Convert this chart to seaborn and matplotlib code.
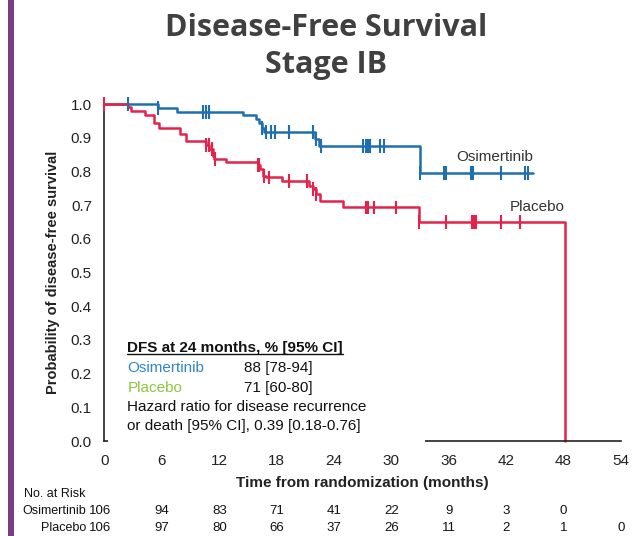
import numpy as np
import pandas as pd
import matplotlib
matplotlib.use("Agg")
import matplotlib.pyplot as plt
import seaborn as sns
from matplotlib.patches import Rectangle
from matplotlib.lines import Line2D

# Kaplan-Meier step points (month, survival probability)
osi_time = [0, 5.6, 7.6, 14.45, 15.85, 16.2, 16.5, 16.7, 22.0, 22.4, 33.0, 44.8]
osi_surv = [1.0, 0.987, 0.977, 0.967, 0.957, 0.945, 0.93, 0.916, 0.896, 0.876, 0.795, 0.795]
osi_censor = [2.5, 5.6, 10.3, 10.6, 10.95, 16.5, 16.9, 17.4, 17.8, 19.3, 21.8, 22.1,
              22.6, 27.0, 27.3, 27.6, 27.8, 28.8, 29.2, 33.0, 35.5, 35.7, 38.3, 38.5,
              41.45, 44.0, 44.3]

pbo_time = [0, 2.5, 2.8, 4.2, 5.2, 5.65, 7.9, 8.5, 10.6, 10.95, 11.3, 11.5, 12.7,
            16.0, 16.3, 16.6, 16.9, 18.6, 21.4, 21.8, 22.1, 22.5, 24.9, 32.9, 48.1]
pbo_surv = [1.0, 0.99, 0.98, 0.967, 0.945, 0.93, 0.911, 0.889, 0.878, 0.866, 0.846,
            0.836, 0.828, 0.818, 0.807, 0.787, 0.782, 0.772, 0.757, 0.747, 0.732,
            0.712, 0.693, 0.65, 0.0]
pbo_censor = [0.0, 10.6, 10.9, 11.2, 11.6, 16.0, 16.2, 16.7, 17.2, 19.3, 21.2, 21.8,
              22.1, 27.3, 27.5, 28.2, 30.5, 32.9, 35.7, 38.4, 38.6, 38.8, 41.45, 43.4]

arms = ["Osimertinib", "Placebo"]
risk_months = [0, 6, 12, 18, 24, 30, 36, 42, 48, 54]
risk_osi = [106, 94, 83, 71, 41, 22, 9, 3, 0]
risk_pbo = [106, 97, 80, 66, 37, 26, 11, 2, 1, 0]

x_ticks = [0, 6, 12, 18, 24, 30, 36, 42, 48, 54]
y_ticks = [0.0, 0.1, 0.2, 0.3, 0.4, 0.5, 0.6, 0.7, 0.8, 0.9, 1.0]

dfs24_osi = "88 [78-94]"
dfs24_pbo = "71 [60-80]"

BLUE = "#1f6fae"
RED = "#e4234b"
palette = {"Osimertinib": BLUE, "Placebo": RED}

sns.set_theme(style="white")
plt.rcParams["font.family"] = ["Liberation Sans", "DejaVu Sans"]

fig = plt.figure(figsize=(6.34, 5.36), dpi=100)
ax = fig.add_axes([0.1648, 0.1772, 0.8147, 0.6287])


def step_value(times, surv, t):
    idx = np.searchsorted(times, t, side="right") - 1
    return surv[max(idx, 0)]


curves = pd.concat([
    pd.DataFrame({"month": osi_time, "surv": osi_surv, "arm": "Osimertinib"}),
    pd.DataFrame({"month": pbo_time, "surv": pbo_surv, "arm": "Placebo"}),
], ignore_index=True)

sns.lineplot(data=curves, x="month", y="surv", hue="arm", palette=palette,
             drawstyle="steps-post", estimator=None, sort=False, lw=1.8,
             legend=False, ax=ax, clip_on=False)

cens = pd.concat([
    pd.DataFrame({"month": osi_censor,
                  "surv": [step_value(osi_time, osi_surv, t) for t in osi_censor],
                  "arm": "Osimertinib"}),
    pd.DataFrame({"month": pbo_censor,
                  "surv": [step_value(pbo_time, pbo_surv, t) for t in pbo_censor],
                  "arm": "Placebo"}),
], ignore_index=True)
sns.scatterplot(data=cens, x="month", y="surv", hue="arm", palette=palette,
                marker="|", s=100, linewidth=1.5, legend=False, ax=ax, clip_on=False,
                zorder=3)

ax.set_xlim(0, 54)
ax.set_ylim(0, 1.0)
ax.set_xticks(x_ticks)
ax.set_yticks(y_ticks)
ax.set_yticklabels([f"{v:.1f}" for v in y_ticks])
for s in ["top", "right"]:
    ax.spines[s].set_visible(False)
for s in ["left", "bottom"]:
    ax.spines[s].set_color("#222222")
    ax.spines[s].set_linewidth(1.2)
ax.tick_params(axis="x", direction="out", length=6, width=1.2, color="#222222",
               labelsize=11, labelcolor="#222222", pad=3)
ax.tick_params(axis="y", direction="out", length=5, width=1.2, color="#222222",
               labelsize=11, labelcolor="#222222", pad=4)
ax.set_xlabel("Time from randomization (months)", fontsize=11, fontweight="bold",
              color="#222222", labelpad=6)
ax.set_ylabel("Probability of disease-free survival", fontsize=10.5,
              fontweight="bold", color="#222222", labelpad=8)
ax.set_facecolor("white")

# arm labels next to curves
ax.text(44.8, 0.842, "Osimertinib", ha="right", va="center", fontsize=11, color="#333333")
ax.text(48.1, 0.693, "Placebo", ha="right", va="center", fontsize=11, color="#333333")

# DFS summary box
fs = 11
hdr = ax.text(2.4, 0.277, "DFS at 24 months, % [95% CI]", ha="left", va="center",
              fontsize=fs, fontweight="bold", color="#111111")
ax.text(2.4, 0.217, arms[0], ha="left", va="center", fontsize=fs, color="#2e86c8")
ax.text(14.6, 0.217, dfs24_osi, ha="left", va="center", fontsize=fs, color="#111111")
ax.text(2.4, 0.158, arms[1], ha="left", va="center", fontsize=fs, color="#8cc63e")
ax.text(14.6, 0.158, dfs24_pbo, ha="left", va="center", fontsize=fs, color="#111111")
ax.text(2.4, 0.101, "Hazard ratio for disease recurrence", ha="left", va="center",
        fontsize=fs, color="#111111")
ax.text(2.4, 0.045, "or death [95% CI], 0.39 [0.18-0.76]", ha="left", va="center",
        fontsize=fs, color="#111111")

# title
title_font = ["Open Sans", "DejaVu Sans"]
fig.text(0.515, 0.947, "Disease-Free Survival", ha="center", va="center",
         fontsize=22, fontweight="bold", color="#404040", family=title_font)
fig.text(0.515, 0.879, "Stage IB", ha="center", va="center",
         fontsize=22, fontweight="bold", color="#404040", family=title_font)

# numbers at risk
W, H = 634, 536
fig.text(24 / W, 1 - 494 / H, "No. at Risk", ha="left", va="center", fontsize=9,
         color="#111111")
row_y = [1 - 511 / H, 1 - 528 / H]
for arm, counts, yy in zip(arms, [risk_osi, risk_pbo], row_y):
    fig.text(86 / W, yy, arm, ha="right", va="center", fontsize=9, color="#111111")
    for m, c in zip(risk_months, counts):
        xpix = ax.transData.transform((m, 0))[0]
        if m == 0:
            xpix -= 4
        fig.text(xpix / W, yy, str(c), ha="center", va="center", fontsize=9.5,
                 color="#111111")

# left accent bar
fig.add_artist(Rectangle((8 / W, 0), 6 / W, 1, transform=fig.transFigure,
                         facecolor="#7b3d7b", edgecolor="none", zorder=10))

# white band masking the left part of the time axis
fig.add_artist(Rectangle((108 / W, 1 - 445.5 / H), (425 - 108) / W, 9.5 / H,
                         transform=fig.transFigure, facecolor="white",
                         edgecolor="none", zorder=10))

# underline the summary header
fig.canvas.draw()
bb = hdr.get_window_extent()
fig.add_artist(Line2D([bb.x0 / fig.bbox.width, bb.x1 / fig.bbox.width],
                      [(bb.y0 + 1) / fig.bbox.height] * 2, transform=fig.transFigure,
                      color="#111111", lw=1.0, zorder=11))

fig.savefig("out.png", dpi=100, facecolor="white")
